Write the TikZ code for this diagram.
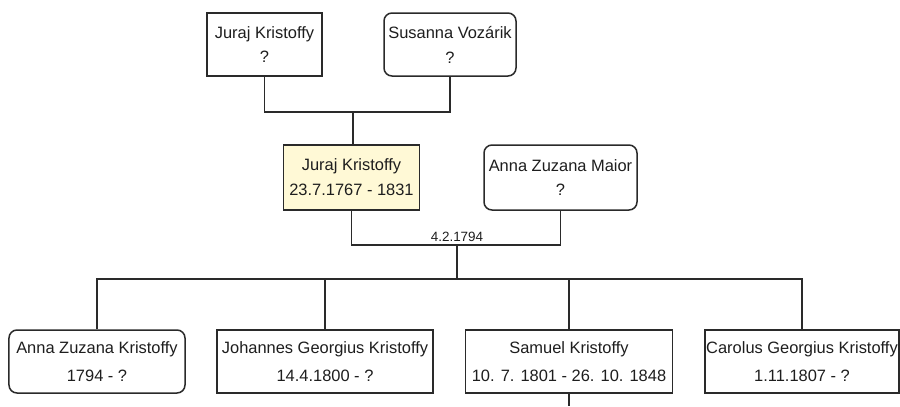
\documentclass[tikz,border=0pt]{standalone}
\usepackage{fontspec}
\setmainfont{Liberation Sans}
\usetikzlibrary{calc}
\definecolor{linegray}{HTML}{2A2A2A}
\definecolor{selfill}{HTML}{FFF9D6}
\definecolor{txt}{HTML}{1E1E1E}
\begin{document}
\begin{tikzpicture}[x=1bp,y=-1bp,
  person/.style={draw=linegray, line width=1.5bp, fill=white, inner sep=0pt,
    align=center, text=txt, font=\fontsize{16.5}{25}\selectfont},
  female/.style={person, rounded corners=8bp},
  selected/.style={person, fill=selfill},
  kids/.style={minimum height=63bp, font=\fontsize{16.5}{28}\selectfont},
  link/.style={draw=linegray, line width=1.7bp}]
\useasboundingbox (0,0) rectangle (900,406);

% grandparents
\node[person, minimum width=115bp, minimum height=63bp] (fj) at (264.5,44.5) {Juraj Kristoffy\\?};
\node[female, minimum width=132bp, minimum height=63bp] (sv) at (450,44.5) {Susanna Vozárik\\?};

% parents
\node[selected, minimum width=136bp, minimum height=65bp] (jk) at (351.5,177.5) {Juraj Kristoffy\\23.7.1767 - 1831};
\node[female, minimum width=153bp, minimum height=65bp] (am) at (560.5,177.5) {Anna Zuzana Maior\\?};

% children
\node[female, kids, minimum width=176bp] (az) at (97,361.5) {Anna Zuzana Kristoffy\\1794 - ?};
\node[person, kids, minimum width=216bp] (jg) at (325,361.5) {Johannes Georgius Kristoffy\\14.4.1800 - ?};
\node[person, kids, minimum width=207bp] (sk) at (569,361.5) {Samuel Kristoffy\\10. 7. 1801 - 26. 10. 1848};
\node[person, kids, minimum width=194bp] (cg) at (802,361.5) {Carolus Georgius Kristoffy\\1.11.1807 - ?};

% junction points
\coordinate (pbar) at (353,112);
\coordinate (mbar) at (457,245);
\coordinate (cbar) at (457,279);
\coordinate (skdown) at (569,406);

% connectors
\draw[link] (fj.south) |- (pbar) -| (sv.south);
\draw[link] (pbar) -- (pbar |- jk.north);
\draw[link] (jk.south) |- (mbar) -| (am.south);
\node[anchor=south, inner sep=3bp, text=txt, font=\fontsize{13.5}{14}\selectfont] (mdate) at (mbar) {4.2.1794};
\draw[link] (mbar) -- (cbar);
\draw[link] (az.north) |- (cbar) -| (cg.north);
\draw[link] (jg.north) -- (jg.north |- cbar);
\draw[link] (sk.north) -- (sk.north |- cbar);
\draw[link] (sk.south) -- (skdown);
\end{tikzpicture}
\end{document}
